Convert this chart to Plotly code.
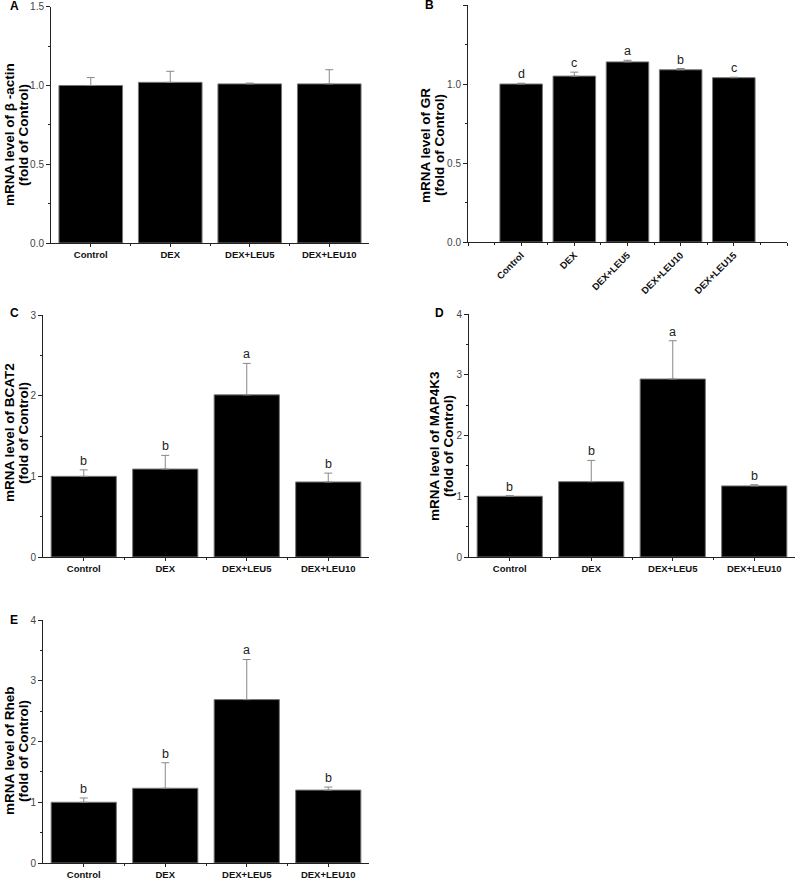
import plotly.graph_objects as go

W, H = 796, 878

GROUPS4 = ["Control", "DEX", "DEX+LEU5", "DEX+LEU10"]
GROUPS5 = ["Control", "DEX", "DEX+LEU5", "DEX+LEU10", "DEX+LEU15"]

actin_mean = [1.00, 1.02, 1.01, 1.01]
actin_err = [0.05, 0.07, 0.005, 0.09]

gr_mean = [1.00, 1.05, 1.14, 1.09, 1.04]
gr_err = [0.005, 0.025, 0.01, 0.008, 0.003]
gr_sig = ["d", "c", "a", "b", "c"]

bcat2_mean = [1.00, 1.09, 2.01, 0.93]
bcat2_err = [0.08, 0.17, 0.39, 0.11]
bcat2_sig = ["b", "b", "a", "b"]

map4k3_mean = [1.00, 1.24, 2.93, 1.17]
map4k3_err = [0.01, 0.35, 0.63, 0.02]
map4k3_sig = ["b", "b", "a", "b"]

rheb_mean = [1.00, 1.23, 2.69, 1.20]
rheb_err = [0.07, 0.42, 0.66, 0.05]
rheb_sig = ["b", "b", "a", "b"]

FONT = "Liberation Sans, Arial, sans-serif"
AXIS_COLOR = "#222"

# panel boxes in pixels: (left, right, top, bottom); title lines at x1/x2, centred on ty
PANELS = [
    dict(letter="A", groups=GROUPS4, mean=actin_mean, err=actin_err, sig=None,
         box=(51, 369, 6.7, 243), yr=1.5, dtick=0.5, minor=0.25, fmt=".1f",
         title=("mRNA level of β -actin", "(fold of Control)"), tx=(9, 23), ty=135,
         lpos=(15, 6), xr=(-0.5, 3.5), angle=0),
    dict(letter="B", groups=GROUPS5, mean=gr_mean, err=gr_err, sig=gr_sig,
         box=(468, 787, 5, 242), yr=1.5, dtick=0.5, minor=0.25, fmt=".1f",
         title=("mRNA level of GR", "(fold of Control)"), tx=(425, 439), ty=145,
         lpos=(430, 5), xr=(-1, 5), angle=-45),
    dict(letter="C", groups=GROUPS4, mean=bcat2_mean, err=bcat2_err, sig=bcat2_sig,
         box=(43, 369, 315, 557), yr=3, dtick=1, minor=0.5, fmt="d",
         title=("mRNA level of BCAT2", "(fold of Control)"), tx=(9, 23), ty=433,
         lpos=(14, 313), xr=(-0.5, 3.5), angle=0),
    dict(letter="D", groups=GROUPS4, mean=map4k3_mean, err=map4k3_err, sig=map4k3_sig,
         box=(469, 795, 314, 557), yr=4, dtick=1, minor=0.5, fmt="d",
         title=("mRNA level of MAP4K3", "(fold of Control)"), tx=(434, 448), ty=446,
         lpos=(439, 313), xr=(-0.5, 3.5), angle=0),
    dict(letter="E", groups=GROUPS4, mean=rheb_mean, err=rheb_err, sig=rheb_sig,
         box=(43, 369, 620, 863), yr=4, dtick=1, minor=0.5, fmt="d",
         title=("mRNA level of Rheb", "(fold of Control)"), tx=(9, 23), ty=751,
         lpos=(14, 620), xr=(-0.5, 3.5), angle=0),
]

fig = go.Figure()
annotations = []

for i, p in enumerate(PANELS, start=1):
    sfx = "" if i == 1 else str(i)
    xref, yref = f"x{sfx}", f"y{sfx}"
    xs = list(range(len(p["groups"])))
    fig.add_trace(go.Bar(
        x=xs, y=p["mean"], width=0.8,
        marker=dict(color="black", line=dict(color="#777", width=1)),
        error_y=dict(type="data", array=p["err"], arrayminus=[0] * len(xs),
                     symmetric=False, color="#888", thickness=1, width=4),
        xaxis=xref, yaxis=yref, showlegend=False, hoverinfo="skip",
    ))
    l, r, t, b = p["box"]
    lo, hi = p["xr"]
    major = list(range(int(lo), int(hi) + 1))
    text = [p["groups"][k] if 0 <= k < len(p["groups"]) else "" for k in major]
    minor_vals = [k + 0.5 for k in range(int(lo), int(hi))]
    xa = dict(
        domain=[l / W, r / W], range=[lo, hi], anchor=yref, automargin=False,
        tickmode="array", tickvals=major, ticktext=text, tickangle=p["angle"],
        ticks="outside", ticklen=3, tickwidth=1, tickcolor=AXIS_COLOR,
        minor=dict(tickmode="array", tickvals=minor_vals, ticks="outside",
                   ticklen=2, tickcolor=AXIS_COLOR),
        showline=True, linecolor=AXIS_COLOR, linewidth=1,
        showgrid=False, zeroline=False, fixedrange=True,
        tickfont=dict(family=FONT, size=9.5, color="#111", weight="bold"),
    )
    ya = dict(
        domain=[1 - b / H, 1 - t / H], range=[0, p["yr"]], anchor=xref,
        automargin=False,
        tickmode="linear", tick0=0, dtick=p["dtick"], tickformat=p["fmt"],
        ticks="outside", ticklen=4, tickwidth=1, tickcolor=AXIS_COLOR,
        minor=dict(dtick=p["minor"], tick0=0, ticks="outside", ticklen=2,
                   tickcolor=AXIS_COLOR),
        showline=True, linecolor=AXIS_COLOR, linewidth=1,
        showgrid=False, zeroline=False, fixedrange=True,
        tickfont=dict(family=FONT, size=10, color="#444"),
    )
    fig.layout[f"xaxis{sfx}"] = xa
    fig.layout[f"yaxis{sfx}"] = ya

    # significance letters over the error caps
    if p["sig"]:
        for k, s in enumerate(p["sig"]):
            annotations.append(dict(
                x=k, y=p["mean"][k] + p["err"][k], xref=xref, yref=yref,
                text=s, showarrow=False, yanchor="bottom", yshift=0,
                font=dict(family=FONT, size=12.5, color="#222"),
            ))

    # panel letter
    annotations.append(dict(
        x=p["lpos"][0] / W, y=1 - p["lpos"][1] / H, xref="paper", yref="paper",
        text=f"<b>{p['letter']}</b>", showarrow=False, xanchor="center",
        yanchor="middle", font=dict(family=FONT, size=12, color="black"),
    ))
    # y-axis title, one annotation per line to keep the lines close together
    for line, tx in zip(p["title"], p["tx"]):
        annotations.append(dict(
            x=tx / W, y=1 - p["ty"] / H, xref="paper", yref="paper",
            text=f"<b>{line}</b>", showarrow=False, textangle=-90,
            xanchor="center", yanchor="middle",
            font=dict(family=FONT, size=13.5, color="black"),
        ))

fig.update_layout(
    width=W, height=H,
    margin=dict(l=0, r=0, t=0, b=0),
    paper_bgcolor="white", plot_bgcolor="white",
    bargap=0.2, showlegend=False,
    annotations=annotations,
    font=dict(family=FONT),
)

# the browser's default 8px body margin would push the figure off the window
fig.write_html("out.html", config={"displayModeBar": False},
               post_script="document.body.style.margin = '0px';")
